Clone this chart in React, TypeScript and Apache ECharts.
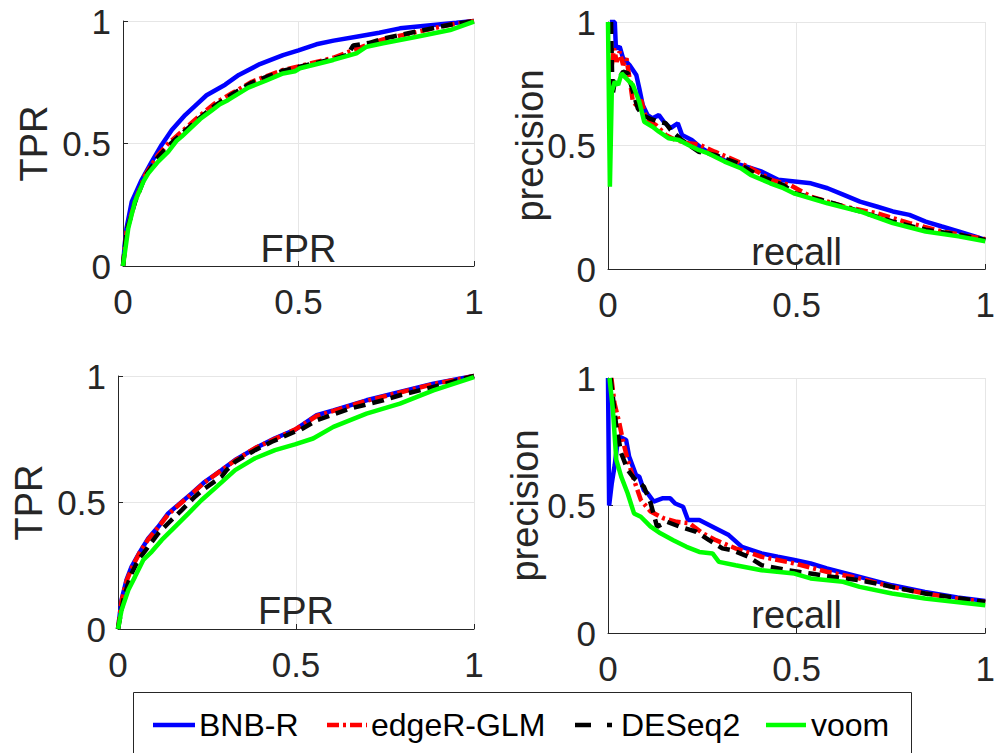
import React, { useEffect, useRef } from "react";
import * as echarts from "echarts";

const seriesNames = ["BNB-R", "edgeR-GLM", "DESeq2", "voom"];
const tickValues = [0, 0.5, 1];

// Top-left ROC (FPR, TPR)
const rocA_bnb: number[][] = [[0,0],[0.005,0.09],[0.01,0.154],[0.025,0.263],[0.053,0.351],[0.082,0.426],[0.11,0.494],[0.139,0.555],[0.177,0.616],[0.21,0.66],[0.238,0.697],[0.291,0.74],[0.33,0.78],[0.39,0.824],[0.456,0.861],[0.5,0.88],[0.551,0.905],[0.6,0.92],[0.665,0.936],[0.73,0.952],[0.789,0.97],[0.884,0.984],[0.95,0.993],[1,1]];
const rocA_edger: number[][] = [[0,0],[0.01,0.14],[0.034,0.263],[0.063,0.371],[0.1,0.453],[0.129,0.5],[0.167,0.548],[0.215,0.609],[0.262,0.664],[0.31,0.705],[0.367,0.752],[0.405,0.773],[0.456,0.8],[0.5,0.815],[0.599,0.85],[0.65,0.878],[0.7,0.905],[0.741,0.925],[0.837,0.955],[0.932,0.985],[1,1]];
const rocA_deseq: number[][] = [[0,0],[0.01,0.14],[0.034,0.26],[0.063,0.365],[0.1,0.445],[0.129,0.49],[0.167,0.54],[0.215,0.6],[0.262,0.655],[0.31,0.7],[0.367,0.748],[0.405,0.77],[0.456,0.797],[0.5,0.812],[0.6,0.845],[0.64,0.862],[0.656,0.9],[0.7,0.91],[0.741,0.928],[0.837,0.957],[0.932,0.985],[1,1]];
const rocA_voom: number[][] = [[0,0],[0.015,0.154],[0.034,0.263],[0.058,0.344],[0.072,0.378],[0.1,0.426],[0.129,0.467],[0.152,0.51],[0.167,0.528],[0.22,0.6],[0.253,0.635],[0.276,0.66],[0.3,0.678],[0.357,0.728],[0.405,0.755],[0.456,0.786],[0.49,0.795],[0.504,0.807],[0.599,0.841],[0.665,0.868],[0.694,0.895],[0.741,0.909],[0.837,0.936],[0.932,0.963],[1,0.997]];

// Top-right PR (recall, precision)
const prA_bnb: number[][] = [[0.005,1],[0.018,1],[0.021,0.893],[0.031,0.9],[0.04,0.853],[0.057,0.826],[0.075,0.785],[0.083,0.731],[0.092,0.664],[0.105,0.623],[0.118,0.61],[0.135,0.623],[0.148,0.596],[0.166,0.57],[0.185,0.59],[0.196,0.543],[0.222,0.522],[0.248,0.489],[0.278,0.462],[0.309,0.44],[0.365,0.415],[0.408,0.394],[0.451,0.361],[0.495,0.354],[0.538,0.347],[0.582,0.327],[0.625,0.3],[0.668,0.273],[0.712,0.253],[0.755,0.233],[0.799,0.219],[0.842,0.192],[0.885,0.172],[0.929,0.152],[0.972,0.132],[1,0.118]];
const prA_edger: number[][] = [[0.01,0.826],[0.016,0.893],[0.023,0.839],[0.031,0.88],[0.04,0.826],[0.049,0.853],[0.057,0.772],[0.066,0.677],[0.075,0.664],[0.088,0.684],[0.101,0.61],[0.127,0.583],[0.153,0.543],[0.179,0.522],[0.213,0.509],[0.24,0.505],[0.283,0.475],[0.344,0.435],[0.396,0.394],[0.434,0.36],[0.483,0.34],[0.538,0.293],[0.625,0.253],[0.712,0.226],[0.799,0.186],[0.885,0.152],[1,0.121]];
const prA_deseq: number[][] = [[0.008,1],[0.012,0.704],[0.018,0.758],[0.027,0.765],[0.04,0.799],[0.053,0.792],[0.066,0.718],[0.079,0.65],[0.092,0.623],[0.109,0.61],[0.135,0.596],[0.153,0.59],[0.166,0.563],[0.196,0.522],[0.24,0.475],[0.283,0.462],[0.344,0.428],[0.396,0.381],[0.465,0.34],[0.495,0.307],[0.582,0.273],[0.668,0.233],[0.755,0.192],[0.842,0.159],[0.929,0.139],[1,0.118]];
const prA_voom: number[][] = [[0,1],[0.005,0.333],[0.01,0.718],[0.018,0.758],[0.027,0.745],[0.036,0.792],[0.044,0.779],[0.057,0.758],[0.066,0.745],[0.083,0.677],[0.096,0.596],[0.118,0.576],[0.135,0.556],[0.161,0.529],[0.188,0.522],[0.213,0.502],[0.24,0.482],[0.266,0.468],[0.309,0.435],[0.352,0.408],[0.378,0.381],[0.43,0.347],[0.465,0.327],[0.495,0.305],[0.582,0.266],[0.668,0.233],[0.755,0.186],[0.842,0.152],[0.929,0.132],[1,0.112]];

// Bottom-left ROC
const rocB_bnb: number[][] = [[0,0],[0.01,0.115],[0.024,0.194],[0.038,0.246],[0.062,0.306],[0.085,0.358],[0.113,0.404],[0.141,0.457],[0.169,0.49],[0.207,0.536],[0.244,0.582],[0.291,0.628],[0.329,0.668],[0.385,0.714],[0.441,0.754],[0.497,0.787],[0.558,0.845],[0.605,0.864],[0.698,0.904],[0.792,0.937],[0.886,0.97],[1,1]];
const rocB_edger: number[][] = [[0,0],[0.01,0.11],[0.024,0.19],[0.04,0.245],[0.062,0.305],[0.085,0.355],[0.113,0.402],[0.141,0.453],[0.169,0.488],[0.207,0.534],[0.244,0.58],[0.291,0.628],[0.329,0.666],[0.385,0.715],[0.441,0.752],[0.497,0.788],[0.558,0.842],[0.605,0.862],[0.698,0.902],[0.792,0.935],[0.886,0.968],[1,1]];
const rocB_deseq: number[][] = [[0,0],[0.015,0.115],[0.034,0.207],[0.057,0.273],[0.085,0.325],[0.113,0.378],[0.141,0.418],[0.179,0.47],[0.216,0.523],[0.244,0.556],[0.291,0.602],[0.305,0.628],[0.329,0.661],[0.385,0.707],[0.432,0.74],[0.497,0.78],[0.511,0.786],[0.558,0.825],[0.651,0.871],[0.745,0.904],[0.792,0.924],[0.886,0.957],[1,1]];
const rocB_voom: number[][] = [[0,0],[0.01,0.075],[0.029,0.154],[0.048,0.207],[0.071,0.273],[0.095,0.306],[0.123,0.352],[0.16,0.404],[0.198,0.457],[0.235,0.51],[0.272,0.556],[0.329,0.628],[0.385,0.675],[0.441,0.707],[0.497,0.73],[0.548,0.753],[0.605,0.799],[0.698,0.851],[0.792,0.891],[0.886,0.943],[1,0.996]];

// Bottom-right PR
const prB_bnb: number[][] = [[0,1],[0.003,0.5],[0.01,0.587],[0.018,0.66],[0.026,0.758],[0.031,0.77],[0.048,0.757],[0.056,0.692],[0.074,0.62],[0.083,0.613],[0.095,0.56],[0.105,0.548],[0.121,0.515],[0.144,0.528],[0.165,0.528],[0.178,0.508],[0.199,0.495],[0.212,0.443],[0.242,0.443],[0.277,0.417],[0.32,0.384],[0.355,0.338],[0.407,0.312],[0.45,0.299],[0.494,0.286],[0.537,0.273],[0.58,0.253],[0.667,0.22],[0.753,0.187],[0.84,0.161],[0.926,0.139],[1,0.126]];
const prB_edger: number[][] = [[0.009,1],[0.017,0.902],[0.03,0.823],[0.039,0.758],[0.052,0.679],[0.069,0.6],[0.087,0.522],[0.113,0.476],[0.147,0.45],[0.182,0.436],[0.216,0.43],[0.251,0.391],[0.286,0.364],[0.338,0.332],[0.407,0.299],[0.494,0.273],[0.58,0.24],[0.667,0.214],[0.753,0.181],[0.84,0.155],[0.926,0.135],[1,0.122]];
const prB_deseq: number[][] = [[0.007,1],[0.022,0.81],[0.035,0.705],[0.052,0.64],[0.069,0.607],[0.095,0.574],[0.113,0.509],[0.13,0.417],[0.156,0.436],[0.19,0.417],[0.234,0.397],[0.268,0.364],[0.303,0.332],[0.329,0.325],[0.372,0.299],[0.407,0.266],[0.476,0.246],[0.537,0.233],[0.58,0.223],[0.667,0.207],[0.753,0.181],[0.84,0.155],[1,0.122]];
const prB_voom: number[][] = [[0.004,1],[0.013,0.875],[0.022,0.679],[0.035,0.613],[0.052,0.548],[0.069,0.469],[0.087,0.456],[0.113,0.417],[0.139,0.391],[0.173,0.364],[0.208,0.338],[0.242,0.318],[0.277,0.312],[0.294,0.279],[0.338,0.266],[0.407,0.246],[0.494,0.233],[0.537,0.214],[0.623,0.201],[0.667,0.181],[0.753,0.155],[0.84,0.135],[1,0.109]];

const panels = [
  { xName: "FPR", yName: "TPR", data: [rocA_bnb, rocA_edger, rocA_deseq, rocA_voom] },
  { xName: "recall", yName: "precision", data: [prA_bnb, prA_edger, prA_deseq, prA_voom] },
  { xName: "FPR", yName: "TPR", data: [rocB_bnb, rocB_edger, rocB_deseq, rocB_voom] },
  { xName: "recall", yName: "precision", data: [prB_bnb, prB_edger, prB_deseq, prB_voom] },
];

const FONT = "'Liberation Sans', Arial, Helvetica, sans-serif";
const INK = "#262626";
const lineColors = ["#0000ff", "#ff0000", "#000000", "#00ff00"];
const lineTypes: any[] = ["solid", [12, 4, 3, 4], [12, 7], "solid"];
const legendDash: any[] = [null, [12, 4, 3, 4], [16, 16], null];

const grids = [
  { left: 123, top: 21, width: 351, height: 245 },
  { left: 608, top: 22, width: 384, height: 247 },
  { left: 118, top: 376, width: 356, height: 253 },
  { left: 608, top: 378, width: 385, height: 255 },
];
const yNameGaps = [70, 59, 70, 64];
const xNameGaps = [-36, -36, -37, -37];

// legend layout: [line start, line end, text x]
const legendSlots = [[153, 195, 199], [327, 367, 371], [575, 612, 621], [766, 806, 811]];
const legendY = 725;

export default function App() {
  const ref = useRef<HTMLDivElement>(null);
  useEffect(() => {
    if (!ref.current) return;
    const chart = echarts.init(ref.current, undefined, { renderer: "svg" });
    const xAxis = panels.map((p, i) => ({
      type: "value",
      gridIndex: i,
      min: tickValues[0],
      max: tickValues[tickValues.length - 1],
      interval: tickValues[1] - tickValues[0],
      name: p.xName,
      nameLocation: "middle",
      nameGap: xNameGaps[i],
      nameMoveOverlap: false,
      nameTextStyle: { fontSize: 38, color: INK, fontFamily: FONT },
      axisLine: { show: true, onZero: false, lineStyle: { color: INK, width: 1 } },
      axisTick: { show: true, inside: true, length: 5, lineStyle: { color: INK } },
      axisLabel: { fontSize: 35, color: INK, fontFamily: FONT, margin: 18 },
      splitLine: { show: true, lineStyle: { color: "#e6e6e6", width: 1 } },
    }));
    const yAxis = panels.map((p, i) => ({
      type: "value",
      gridIndex: i,
      min: tickValues[0],
      max: tickValues[tickValues.length - 1],
      interval: tickValues[1] - tickValues[0],
      name: p.yName,
      nameLocation: "middle",
      nameGap: yNameGaps[i],
      nameRotate: 90,
      nameMoveOverlap: false,
      nameTextStyle: { fontSize: 38, color: INK, fontFamily: FONT },
      axisLine: { show: true, onZero: false, lineStyle: { color: INK, width: 1 } },
      axisTick: { show: true, inside: true, length: 5, lineStyle: { color: INK } },
      axisLabel: { fontSize: 35, color: INK, fontFamily: FONT, margin: 12 },
      splitLine: { show: true, lineStyle: { color: "#e6e6e6", width: 1 } },
    }));
    const series: any[] = [];
    panels.forEach((p, i) => {
      p.data.forEach((d, k) => {
        series.push({
          type: "line",
          name: seriesNames[k],
          xAxisIndex: i,
          yAxisIndex: i,
          data: d,
          symbol: "none",
          clip: false,
          lineStyle: { color: lineColors[k], width: 4.5, type: lineTypes[k] },
          itemStyle: { color: lineColors[k] },
        });
      });
    });
    const legendGraphics: any[] = [
      {
        type: "rect",
        shape: { x: 133.5, y: 692.5, width: 778, height: 100 },
        style: { fill: "#ffffff", stroke: INK, lineWidth: 1 },
        z: 0,
      },
    ];
    seriesNames.forEach((name, k) => {
      const [x1, x2, tx] = legendSlots[k];
      legendGraphics.push({
        type: "line",
        shape: { x1, y1: legendY, x2, y2: legendY },
        style: { stroke: lineColors[k], lineWidth: 4.5, lineDash: legendDash[k] },
        z: 1,
      });
      legendGraphics.push({
        type: "text",
        x: tx,
        y: legendY,
        style: {
          text: name,
          fontSize: 32,
          fontFamily: FONT,
          fill: "#000000",
          textAlign: "left",
          textVerticalAlign: "middle",
        },
        z: 1,
      });
    });
    chart.setOption({
      animation: false,
      backgroundColor: "#ffffff",
      grid: grids.map((g) => ({ ...g, containLabel: false })),
      xAxis,
      yAxis,
      series,
      graphic: legendGraphics,
    });
    return () => chart.dispose();
  }, []);
  return <div ref={ref} style={{ position: "absolute", left: 0, top: 0, width: 998, height: 753 }} />;
}
